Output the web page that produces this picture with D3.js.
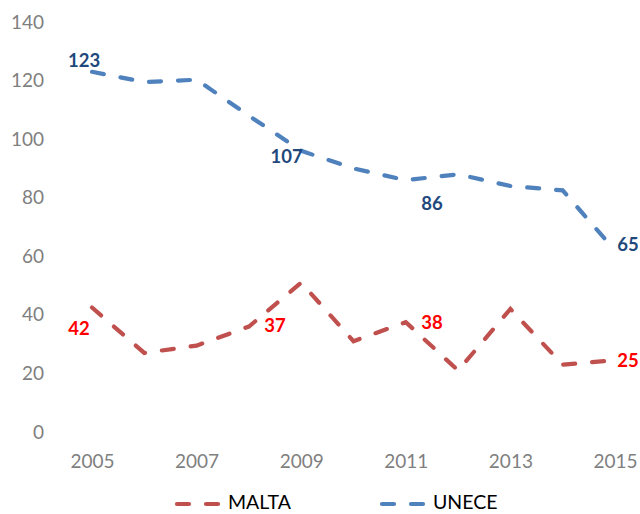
<!DOCTYPE html>
<html><head><meta charset="utf-8">
<script src="https://cdn.jsdelivr.net/npm/d3@7"></script>
<style>body{margin:0;background:#fff}svg{display:block}</style>
</head><body>
<script>
const years = [2005,2006,2007,2008,2009,2010,2011,2012,2013,2014,2015];
const malta = [42.5,27,29.5,36,51,31,37.5,21,42,23,24.5];
const unece = [123,119.5,120.3,108,96,90,86,88,84,82.5,62];
const yTicks = [0,20,40,60,80,100,120,140];
const xTicks = [2005,2007,2009,2011,2013,2015];
const seriesNames = ["MALTA","UNECE"];
// annotation labels: [text, year, value]
const unecLabels = [["123",2004.85,127],["107",2008.72,94],["86",2011.5,78],["65",2015.25,64]];
const maltaLabels = [["42",2004.75,35.5],["37",2008.5,36.5],["38",2011.5,37.5],["25",2015.25,24.5]];

const W=640,H=514;
const svg=d3.select("body").append("svg").attr("width",W).attr("height",H);
const font="Lato, 'Open Sans', sans-serif";
const x=d3.scaleLinear().domain([2005,2015]).range([92,615]);
const y=d3.scaleLinear().domain([0,140]).range([432,22]);

const yAxis=svg.append("g").attr("transform","translate(52,0)")
  .call(d3.axisLeft(y).tickValues(yTicks).tickSize(0).tickPadding(8));
yAxis.select(".domain").remove();
yAxis.selectAll("text").attr("font-family",font).attr("font-size",19).attr("fill","#7f7f7f");

const xAxis=svg.append("g").attr("transform","translate(0,452)")
  .call(d3.axisBottom(x).tickValues(xTicks).tickFormat(d3.format("d")).tickSize(0).tickPadding(2));
xAxis.select(".domain").remove();
xAxis.selectAll("text").attr("font-family",font).attr("font-size",19).attr("fill","#7f7f7f");

const line=d3.line().x((d,i)=>x(years[i])).y(d=>y(d));
const colors={MALTA:"#C0504D",UNECE:"#4F81BD"};
[[malta,"MALTA"],[unece,"UNECE"]].forEach(([vals,name])=>{
  svg.append("path").datum(vals).attr("d",line).attr("fill","none")
    .attr("stroke",colors[name]).attr("stroke-width",4.2)
    .attr("stroke-dasharray","12,17").attr("stroke-linecap","round");
});

function labels(arr,color){
  svg.append("g").selectAll("text").data(arr).join("text")
    .attr("x",d=>x(d[1])).attr("y",d=>y(d[2])).attr("text-anchor","middle")
    .attr("dy","0.35em").attr("font-family",font).attr("font-weight","bold")
    .attr("font-size",18.5).attr("fill",color).text(d=>d[0]);
}
labels(unecLabels,"#1F497D");
labels(maltaLabels,"#FF0000");

const legend=svg.append("g");
const lx={MALTA:175,UNECE:380};
seriesNames.forEach(n=>{
  legend.append("line").attr("x1",lx[n]).attr("x2",lx[n]+44).attr("y1",504).attr("y2",504)
    .attr("stroke",colors[n]).attr("stroke-width",4.2).attr("stroke-dasharray","12,17")
    .attr("stroke-linecap","round").attr("transform","translate(2,0)");
  legend.append("text").attr("x",lx[n]+53).attr("y",502.5).attr("dy","0.35em")
    .attr("font-family",font).attr("font-size",19.5).attr("fill","#000").text(n);
});
</script>
</body></html>
